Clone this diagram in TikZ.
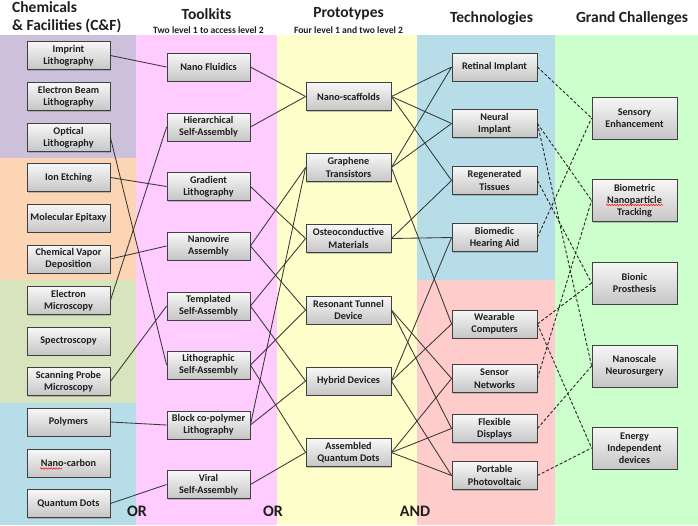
\documentclass[tikz,border=0pt]{standalone}
\usepackage{fontspec}
\setmainfont{Carlito}
\usetikzlibrary{shadows,decorations.pathmorphing}
\definecolor{bgpurple}{HTML}{CCC0DA}
\definecolor{bgorange}{HTML}{FCD5B4}
\definecolor{bggreen}{HTML}{D7E4BD}
\definecolor{bgblue}{HTML}{B7DEE8}
\definecolor{bgpink}{HTML}{FFCCFF}
\definecolor{bgyellow}{HTML}{FFFFCC}
\definecolor{bgrose}{HTML}{FFCCCC}
\definecolor{bgmint}{HTML}{CCFFCC}
\definecolor{txt}{HTML}{1E1E1E}
\begin{document}
\begin{tikzpicture}[x=1pt,y=-1pt,
  box/.style={draw=black!75, line width=0.8pt, top color=gray!6, bottom color=gray!45,
    minimum width=83pt, minimum height=28pt, inner sep=1pt, align=center,
    font=\fontsize{10.2}{12.4}\selectfont\bfseries, text=txt,
    drop shadow={shadow xshift=1.3pt, shadow yshift=-1.3pt, opacity=0.45}},
  pbox/.style={box, minimum width=85pt},
  gbox/.style={box, minimum width=85pt, minimum height=42pt, font=\fontsize{10.2}{11.8}\selectfont\bfseries},
  link/.style={draw=black!78, line width=0.85pt},
  dlink/.style={draw=black!85, line width=0.9pt, dash pattern=on 3pt off 2pt},
  hdr/.style={font=\fontsize{15.5}{18}\selectfont\bfseries, text=txt, inner sep=0pt},
  sub/.style={font=\fontsize{9.6}{11}\selectfont\bfseries, text=txt, inner sep=0pt},
  logic/.style={font=\fontsize{16}{18}\selectfont\bfseries, text=txt, inner sep=0pt},
  squig/.style={draw=red, line width=0.5pt, decorate, decoration={snake, amplitude=0.7pt, segment length=2.6pt}}
]
\useasboundingbox (0,0) rectangle (698,525);
\fill[white] (0,0) rectangle (698,525);
% background bands
\fill[bgpurple] (0,35) rectangle (136,158);
\fill[bgorange] (0,158) rectangle (136,280);
\fill[bggreen] (0,280) rectangle (136,403);
\fill[bgblue] (0,403) rectangle (136,525);
\fill[bgpink] (136,35) rectangle (277,525);
\fill[bgyellow] (277,35) rectangle (417,525);
\fill[bgblue] (417,35) rectangle (555,280);
\fill[bgrose] (417,280) rectangle (555,525);
\fill[bgmint] (555,35) rectangle (698,525);

% headers
\node[hdr, anchor=north west, align=left] (h1) at (12,1) {Chemicals\\\& Facilities (C\&F)};
\node[hdr] (h2) at (206.5,14) {Toolkits};
\node[sub] (s2) at (208.5,30) {Two level 1 to access level 2};
\node[hdr] (h3) at (348.5,14) {Prototypes};
\node[sub] (s3) at (348.5,30) {Four level 1 and two level 2};
\node[hdr] (h4) at (491.5,18.5) {Technologies};
\node[hdr] (h5) at (632,18.5) {Grand Challenges};

\node[logic] (or1) at (137,511.5) {OR};
\node[logic] (or2) at (273,511.5) {OR};
\node[logic] (and) at (415,511.5) {AND};

% C&F
\node[box] (imprint) at (68.5,55.5) {Imprint\\Lithography};
\node[box] (ebeam) at (68.5,96.5) {Electron Beam\\Lithography};
\node[box] (optical) at (68.5,137.5) {Optical\\Lithography};
\node[box] (ion) at (68.5,177.5) {Ion Etching};
\node[box] (mbe) at (68.5,218) {Molecular Epitaxy};
\node[box] (cvd) at (68.5,259) {Chemical Vapor\\Deposition};
\node[box] (em) at (68.5,300.5) {Electron\\Microscopy};
\node[box] (spec) at (68.5,341) {Spectroscopy};
\node[box] (spm) at (68.5,381.5) {Scanning Probe\\Microscopy};
\node[box] (poly) at (68.5,422) {Polymers};
\node[box] (nanoc) at (68.5,463) {Nano-carbon};
\node[box] (qd) at (68.5,503.5) {Quantum Dots};

% Toolkits
\node[box] (nf) at (208.5,67) {Nano Fluidics};
\node[box] (hier) at (208.5,127) {Hierarchical\\Self-Assembly};
\node[box] (grad) at (208.5,186.5) {Gradient\\Lithography};
\node[box] (nw) at (208.5,246) {Nanowire\\Assembly};
\node[box] (templ) at (208.5,306) {Templated\\Self-Assembly};
\node[box] (litho) at (208.5,365) {Lithographic\\Self-Assembly};
\node[box] (bcp) at (208.5,425) {Block co-polymer\\Lithography};
\node[box] (viral) at (208.5,484.5) {Viral\\Self-Assembly};

% Prototypes
\node[pbox] (scaf) at (348.5,96.5) {Nano-scaffolds};
\node[pbox] (graph) at (348.5,167.5) {Graphene\\Transistors};
\node[pbox] (osteo) at (348.5,238.5) {Osteoconductive\\Materials};
\node[pbox] (rtd) at (348.5,310) {Resonant Tunnel\\Device};
\node[pbox] (hybrid) at (348.5,381) {Hybrid Devices};
\node[pbox] (aqd) at (348.5,452.5) {Assembled\\Quantum Dots};

% Technologies
\node[pbox] (retinal) at (494.5,67) {Retinal Implant};
\node[pbox] (neural) at (494.5,123.5) {Neural\\Implant};
\node[pbox] (regen) at (494.5,180.5) {Regenerated\\Tissues};
\node[pbox] (biomed) at (494.5,237.5) {Biomedic\\Hearing Aid};
\node[pbox] (wear) at (494.5,324) {Wearable\\Computers};
\node[pbox] (sensor) at (494.5,378.5) {Sensor\\Networks};
\node[pbox] (flex) at (494.5,428.5) {Flexible\\Displays};
\node[pbox] (pv) at (494.5,475.5) {Portable\\Photovoltaic};

% Grand challenges
\node[gbox] (sensory) at (634.5,118) {Sensory\\Enhancement};
\node[gbox] (biometric) at (634.5,200.5) {Biometric\\Nanoparticle\\Tracking};
\node[gbox] (bionic) at (634.5,283) {Bionic\\Prosthesis};
\node[gbox] (neuro) at (634.5,366) {Nanoscale\\Neurosurgery};
\node[gbox] (energy) at (634.5,448) {Energy\\Independent\\devices};

% spell-check squiggles
\draw[squig] (606,205) -- (663,205);
\draw[squig] (40,468.5) -- (62,468.5);

% C&F -> Toolkits
\draw[link] (imprint.east) -- (nf.west);
\draw[link] (optical.east) -- (litho.west);
\draw[link] (ion.east) -- (grad.west);
\draw[link] (em.east) -- (hier.west);
\draw[link] (cvd.east) -- (nw.west);
\draw[link] (spm.east) -- (templ.west);
\draw[link] (poly.east) -- (bcp.west);
\draw[link] (qd.east) -- (viral.west);

% Toolkits -> Prototypes
\draw[link] (nf.east) -- (scaf.west);
\draw[link] (hier.east) -- (scaf.west);
\draw[link] (grad.east) -- (osteo.west);
\draw[link] (nw.east) -- (graph.west);
\draw[link] (nw.east) -- (rtd.west);
\draw[link] (templ.east) -- (osteo.west);
\draw[link] (templ.east) -- (hybrid.west);
\draw[link] (litho.east) -- (rtd.west);
\draw[link] (litho.east) -- (aqd.west);
\draw[link] (bcp.east) -- (graph.west);
\draw[link] (bcp.east) -- (hybrid.west);
\draw[link] (viral.east) -- (aqd.west);

% Prototypes -> Technologies
\draw[link] (scaf.east) -- (retinal.west);
\draw[link] (scaf.east) -- (neural.west);
\draw[link] (scaf.east) -- (regen.west);
\draw[link] (graph.east) -- (retinal.west);
\draw[link] (graph.east) -- (neural.west);
\draw[link] (graph.east) -- (wear.west);
\draw[link] (osteo.east) -- (regen.west);
\draw[link] (osteo.east) -- (biomed.west);
\draw[link] (rtd.east) -- (sensor.west);
\draw[link] (rtd.east) -- (flex.west);
\draw[link] (hybrid.east) -- (biomed.west);
\draw[link] (hybrid.east) -- (wear.west);
\draw[link] (hybrid.east) -- (pv.west);
\draw[link] (aqd.east) -- (sensor.west);
\draw[link] (aqd.east) -- (flex.west);
\draw[link] (aqd.east) -- (pv.west);

% Technologies -> Grand challenges
\draw[dlink] (retinal.east) -- (sensory.west);
\draw[dlink] (neural.east) -- (biometric.west);
\draw[dlink] (neural.east) -- (neuro.west);
\draw[dlink] (regen.east) -- (bionic.west);
\draw[dlink] (biomed.east) -- (sensory.west);
\draw[dlink] (wear.east) -- (bionic.west);
\draw[dlink] (wear.east) -- (energy.west);
\draw[dlink] (sensor.east) -- (biometric.west);
\draw[dlink] (flex.east) -- (neuro.west);
\draw[dlink] (pv.east) -- (energy.west);
\end{tikzpicture}
\end{document}
